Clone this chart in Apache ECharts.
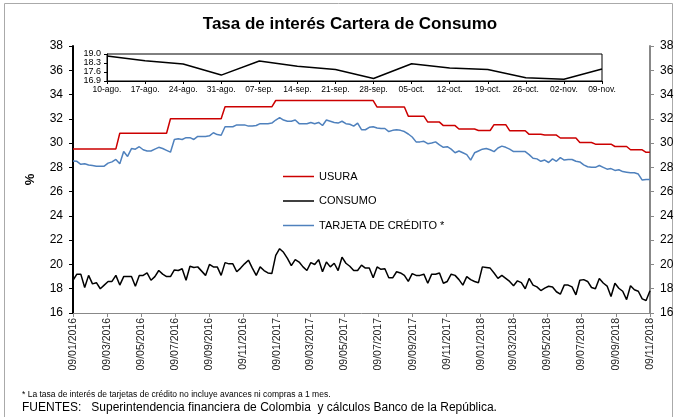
<!DOCTYPE html>
<html><head><meta charset="utf-8">
<script src="https://cdn.jsdelivr.net/npm/echarts@6/dist/echarts.min.js"></script>
<style>html,body{margin:0;padding:0;background:#fff}#c{width:679px;height:417px}</style>
</head><body><div id="c"></div>
<script>
const titleText = 'Tasa de interés Cartera de Consumo';
const seriesNames = ['USURA', 'CONSUMO', 'TARJETA DE CRÉDITO *'];
const firstWeek = '2016-01-08';
const xTickDates = ['2016-01-09','2016-03-09','2016-05-09','2016-07-09','2016-09-09','2016-11-09',
  '2017-01-09','2017-03-09','2017-05-09','2017-07-09','2017-09-09','2017-11-09',
  '2018-01-09','2018-03-09','2018-05-09','2018-07-09','2018-09-09','2018-11-09'];
const yTicks = [16,18,20,22,24,26,28,30,32,34,36,38];
const insetLabels = ['10-ago.','17-ago.','24-ago.','31-ago.','07-sep.','14-sep.','21-sep.','28-sep.','05-oct.','12-oct.','19-oct.','26-oct.','02-nov.','09-nov.'];
const insetTicks = [16.9, 17.6, 18.3, 19.0];

const usura = [
  29.52,29.52,29.52,29.52,29.52,29.52,29.52,29.52,29.52,29.52,29.52,29.52,
  30.81,30.81,30.81,30.81,30.81,30.81,30.81,30.81,30.81,30.81,30.81,30.81,30.81,
  32.01,32.01,32.01,32.01,32.01,32.01,32.01,32.01,32.01,32.01,32.01,32.01,32.01,32.01,
  32.99,32.99,32.99,32.99,32.99,32.99,32.99,32.99,32.99,32.99,32.99,32.99,32.99,
  33.51,33.51,33.51,33.51,33.51,33.51,33.51,33.51,33.51,33.51,33.51,33.51,33.51,
  33.50,33.50,33.50,33.50,33.50,33.50,33.50,33.50,33.50,33.50,33.50,33.50,33.50,
  32.97,32.97,32.97,32.97,32.97,32.97,32.97,32.97,
  32.22,32.22,32.22,32.22,32.22,
  31.73,31.73,31.73,31.73,
  31.44,31.44,31.44,31.44,
  31.16,31.16,31.16,31.16,31.16,
  31.04,31.04,31.04,31.04,
  31.52,31.52,31.52,31.52,
  31.02,31.02,31.02,31.02,31.02,
  30.72,30.72,30.72,30.72,
  30.66,30.66,30.66,30.66,
  30.42,30.42,30.42,30.42,30.42,
  30.05,30.05,30.05,30.05,
  29.91,29.91,29.91,29.91,29.91,
  29.72,29.72,29.72,29.72,
  29.45,29.45,29.45,29.45,
  29.24,29.24
];
const consumo = [
  18.7,19.2,19.2,18.1,19.1,18.4,18.5,18.0,18.3,18.6,
  18.6,19.1,18.3,19.0,19.0,19.0,18.2,19.1,19.1,19.3,
  18.7,19.0,19.5,19.2,19.0,19.0,19.55,19.5,19.65,18.7,
  19.85,19.75,19.8,19.45,19.1,20.0,19.8,19.8,19.1,20.15,
  20.05,20.05,19.4,19.7,20.05,20.35,19.7,19.1,19.8,19.5,
  19.3,19.25,20.75,21.3,21.0,20.5,19.9,20.4,20.2,19.8,
  19.5,20.15,20.0,20.4,19.4,20.2,19.8,20.1,19.5,20.6,
  20.1,19.85,19.5,19.5,19.95,19.7,19.7,18.9,19.8,19.6,
  19.65,18.9,18.9,19.4,19.3,19.1,18.6,19.25,19.1,19.1,
  19.2,18.45,19.2,19.2,19.3,18.45,18.6,19.2,19.1,18.75,
  18.3,19.0,18.75,18.6,18.5,19.8,19.75,19.7,19.3,18.85,
  19.1,18.85,18.6,18.25,18.65,18.5,18.0,18.85,18.3,18.15,
  17.85,18.05,18.2,18.15,17.75,17.55,18.3,18.3,18.15,17.5,
  18.7,18.75,18.6,18.1,18.0,
  18.85,18.47,18.22,17.36,18.45,18.04,17.79,17.1,18.24,17.91,17.79,17.16,17.03,17.84
];
const tarjeta = [
  28.52,28.5,28.25,28.3,28.2,28.15,28.1,28.1,28.1,28.35,
  28.45,28.65,28.3,29.3,28.9,29.55,29.5,29.7,29.45,29.35,
  29.35,29.5,29.65,29.55,29.4,29.25,30.3,30.35,30.3,30.45,
  30.45,30.3,30.55,30.55,30.55,30.6,30.85,30.7,30.65,31.35,
  31.35,31.35,31.5,31.5,31.5,31.4,31.4,31.45,31.6,31.6,
  31.6,31.65,31.9,32.1,31.9,31.8,31.8,31.9,31.6,31.6,
  31.6,31.7,31.6,31.7,31.45,31.9,31.8,31.7,31.65,31.8,
  31.6,31.55,31.4,31.65,31.1,31.1,31.3,31.35,31.25,31.2,
  31.2,30.95,31.05,31.1,31.05,30.95,30.75,30.5,30.1,30.1,
  30.15,29.95,30.0,30.1,29.85,29.65,29.7,29.5,29.2,29.35,
  29.2,29.05,28.6,29.2,29.35,29.5,29.55,29.45,29.3,29.6,
  29.75,29.65,29.5,29.3,29.3,29.3,29.3,29.05,28.75,28.7,
  28.5,28.6,28.4,28.7,28.5,28.8,28.6,28.65,28.65,28.5,
  28.45,28.2,28.05,28.0,28.0,28.15,28.0,27.85,27.9,27.75,
  27.8,27.65,27.6,27.55,27.55,27.45,26.95,27.0,27.0
];

const FONT = 'Arial, "Liberation Sans", sans-serif';
const DAY = 86400000;
const start = Date.parse(firstWeek);
const dates = usura.map((_, i) => start + i * 7 * DAY);
const tickMs = xTickDates.map(d => Date.parse(d));
const pad = n => (n < 10 ? '0' : '') + n;
const fmtDate = v => { const d = new Date(v); return pad(d.getUTCDate()) + '/' + pad(d.getUTCMonth() + 1) + '/' + d.getUTCFullYear(); };
const pairs = arr => dates.map((d, i) => [d, arr[i]]);
const insetData = consumo.slice(-insetLabels.length);

const yAxisBase = {
  type: 'value', gridIndex: 0, min: yTicks[0], max: yTicks[yTicks.length - 1], interval: 2,
  splitLine: { show: false },
  axisTick: { show: true, length: 4, inside: false },
  axisLabel: { fontFamily: FONT, fontSize: 12, color: '#000', margin: 10 }
};

const chart = echarts.init(document.getElementById('c'), null, { renderer: 'canvas' });
chart.setOption({
  animation: false,
  backgroundColor: '#fff',
  title: {
    text: titleText, left: 345, top: 11, textAlign: 'center',
    textStyle: { fontFamily: FONT, fontSize: 17, fontWeight: 'bold', color: '#000' }
  },
  legend: {
    data: seriesNames, orient: 'vertical', left: 278, top: 166,
    icon: 'rect', itemWidth: 31, itemHeight: 1.5, itemGap: 13.5,
    textStyle: { fontFamily: FONT, fontSize: 11, color: '#000' }
  },
  grid: [
    { left: 73, right: 29, top: 46, bottom: 104 },
    { left: 107, right: 77, top: 54, height: 27, show: true, borderColor: '#000', borderWidth: 1, backgroundColor: '#fff', z: 5 }
  ],
  xAxis: [
    {
      type: 'value', gridIndex: 0, min: dates[0], max: tickMs[tickMs.length - 1],
      splitLine: { show: false },
      axisLine: { lineStyle: { color: '#888', width: 1 } },
      axisTick: { show: true, length: 4, customValues: tickMs, lineStyle: { color: '#888' } },
      axisLabel: { customValues: tickMs, formatter: fmtDate, rotate: 90, fontFamily: FONT, fontSize: 10.5, color: '#222', margin: 5 }
    },
    {
      type: 'category', gridIndex: 1, data: insetLabels, boundaryGap: false,
      axisLine: { lineStyle: { color: '#000', width: 1 } },
      axisTick: { show: true, length: 3, alignWithLabel: true, interval: 0, lineStyle: { color: '#000' } },
      axisLabel: { interval: 0, fontFamily: FONT, fontSize: 8.5, color: '#000', margin: 4 },
      z: 6
    }
  ],
  yAxis: [
    Object.assign({}, yAxisBase, {
      position: 'left', name: '%', nameLocation: 'middle', nameGap: 36, nameRotate: 90,
      nameTextStyle: { fontFamily: FONT, fontSize: 13, fontWeight: 'bold', color: '#000' },
      axisLine: { show: true, lineStyle: { color: '#000', width: 2 } },
      axisTick: { show: true, length: 4, lineStyle: { color: '#000' } }
    }),
    Object.assign({}, yAxisBase, {
      position: 'right',
      axisLine: { show: true, lineStyle: { color: '#888', width: 2 } },
      axisTick: { show: true, length: 4, lineStyle: { color: '#888' } }
    }),
    {
      type: 'value', gridIndex: 1, min: insetTicks[0], max: insetTicks[insetTicks.length - 1],
      splitLine: { show: false },
      axisLine: { show: true, lineStyle: { color: '#000', width: 1 } },
      axisTick: { show: true, length: 3, customValues: insetTicks, lineStyle: { color: '#000' } },
      axisLabel: { customValues: insetTicks, formatter: v => v.toFixed(1), fontFamily: FONT, fontSize: 9, color: '#000', margin: 6 },
      z: 6
    }
  ],
  series: [
    { name: seriesNames[0], type: 'line', xAxisIndex: 0, yAxisIndex: 0, data: pairs(usura), showSymbol: false, color: '#CC0000', lineStyle: { width: 1.5, color: '#CC0000' } },
    { name: seriesNames[1], type: 'line', xAxisIndex: 0, yAxisIndex: 0, data: pairs(consumo), showSymbol: false, color: '#000', lineStyle: { width: 1.5, color: '#000' } },
    { name: seriesNames[2], type: 'line', xAxisIndex: 0, yAxisIndex: 0, data: pairs(tarjeta), showSymbol: false, color: '#4F81BD', lineStyle: { width: 1.5, color: '#4F81BD' } },
    { name: 'inset', type: 'line', xAxisIndex: 1, yAxisIndex: 2, data: insetData, showSymbol: false, color: '#000', lineStyle: { width: 1.5, color: '#000' }, z: 7 }
  ],
  graphic: [
    { type: 'rect', shape: { x: 4.5, y: 3.5, width: 668, height: 420 }, style: { fill: 'none', stroke: '#aaa', lineWidth: 1 }, silent: true },
    { type: 'text', x: 22, y: 390, style: { text: '* La tasa de interés de tarjetas de crédito no incluye avances ni compras a 1 mes.', fontFamily: FONT, fontSize: 8.5, fill: '#000' } },
    { type: 'text', x: 22, y: 402, style: { text: 'FUENTES:   Superintendencia financiera de Colombia  y cálculos Banco de la República.', fontFamily: FONT, fontSize: 12, fill: '#000' } }
  ]
});
</script>
</body></html>
